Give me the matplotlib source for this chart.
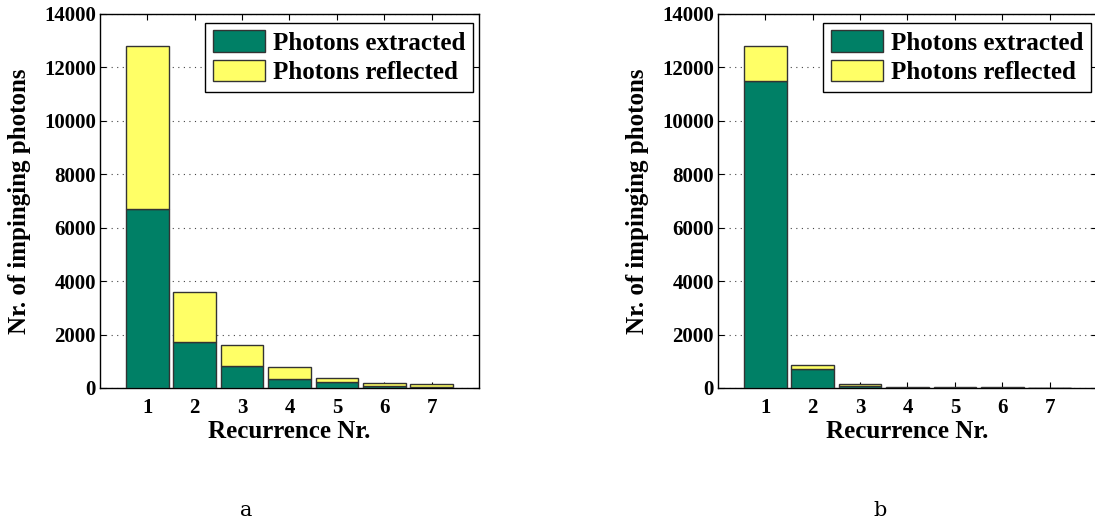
import numpy as np
import matplotlib.pyplot as plt

recurrence = [1, 2, 3, 4, 5, 6, 7]

# case a: total impinging photons split into extracted / reflected
extracted_a = [6700, 1710, 825, 340, 235, 85, 50]
total_a = [12800, 3600, 1610, 785, 385, 185, 135]

# case b
extracted_b = [11500, 720, 90, 15, 12, 10, 10]
total_b = [12800, 870, 150, 25, 20, 18, 16]

green = (0.0, 0.5, 0.4)   # summer colormap ends
yellow = (1.0, 1.0, 0.4)

plt.rcParams['font.family'] = ['Liberation Serif', 'DejaVu Serif']
plt.rcParams['font.weight'] = 'bold'

fig = plt.figure(figsize=(10.95, 5.25), dpi=100)
ax_a = fig.add_axes([0.0913, 0.261, 0.3461, 0.7124])
ax_b = fig.add_axes([0.6557, 0.261, 0.3461, 0.7124])


def draw_panel(ax, extracted, total):
    x = np.array(recurrence)
    ext = np.array(extracted)
    refl = np.array(total) - ext
    ax.bar(x, ext, width=0.9, color=green, edgecolor='#333333', linewidth=1.0,
           label='Photons extracted', zorder=3)
    ax.bar(x, refl, width=0.9, bottom=ext, color=yellow, edgecolor='#333333',
           linewidth=1.0, label='Photons reflected', zorder=3)
    ax.set_xlim(0, 8)
    ax.set_ylim(0, 14000)
    ax.set_xticks(recurrence)
    ax.set_yticks(range(0, 14001, 2000))
    ax.yaxis.grid(True, linestyle=(0, (1, 4)), color='#444444', linewidth=0.8)
    ax.set_axisbelow(True)
    ax.tick_params(direction='in', top=True, right=True, labelsize=15,
                   length=4, width=0.8, pad=7)
    ax.tick_params(axis='y', pad=3)
    for lbl in ax.get_xticklabels() + ax.get_yticklabels():
        lbl.set_fontweight('bold')
    for sp in ax.spines.values():
        sp.set_linewidth(1.0)
    ax.set_xlabel('Recurrence Nr.', fontsize=18, fontweight='bold', labelpad=2)
    ax.set_ylabel('Nr. of impinging photons', fontsize=18, fontweight='bold',
                  labelpad=9)
    leg = ax.legend(loc='upper right', bbox_to_anchor=(0.983, 0.976),
                    fontsize=18, handlelength=2.1, handleheight=0.95,
                    handletextpad=0.3, borderpad=0.3, labelspacing=0.2,
                    fancybox=False, framealpha=1, edgecolor='black',
                    borderaxespad=0)
    leg.get_frame().set_linewidth(1.0)
    for t in leg.get_texts():
        t.set_fontweight('bold')


draw_panel(ax_a, extracted_a, total_a)
draw_panel(ax_b, extracted_b, total_b)

fig.text(0.2247, 0.027, 'a', fontsize=15, fontweight='normal',
         family=['DejaVu Serif'], ha='center', va='center')
fig.text(0.8037, 0.027, 'b', fontsize=15, fontweight='normal',
         family=['DejaVu Serif'], ha='center', va='center')

fig.savefig('out.png', dpi=100)
